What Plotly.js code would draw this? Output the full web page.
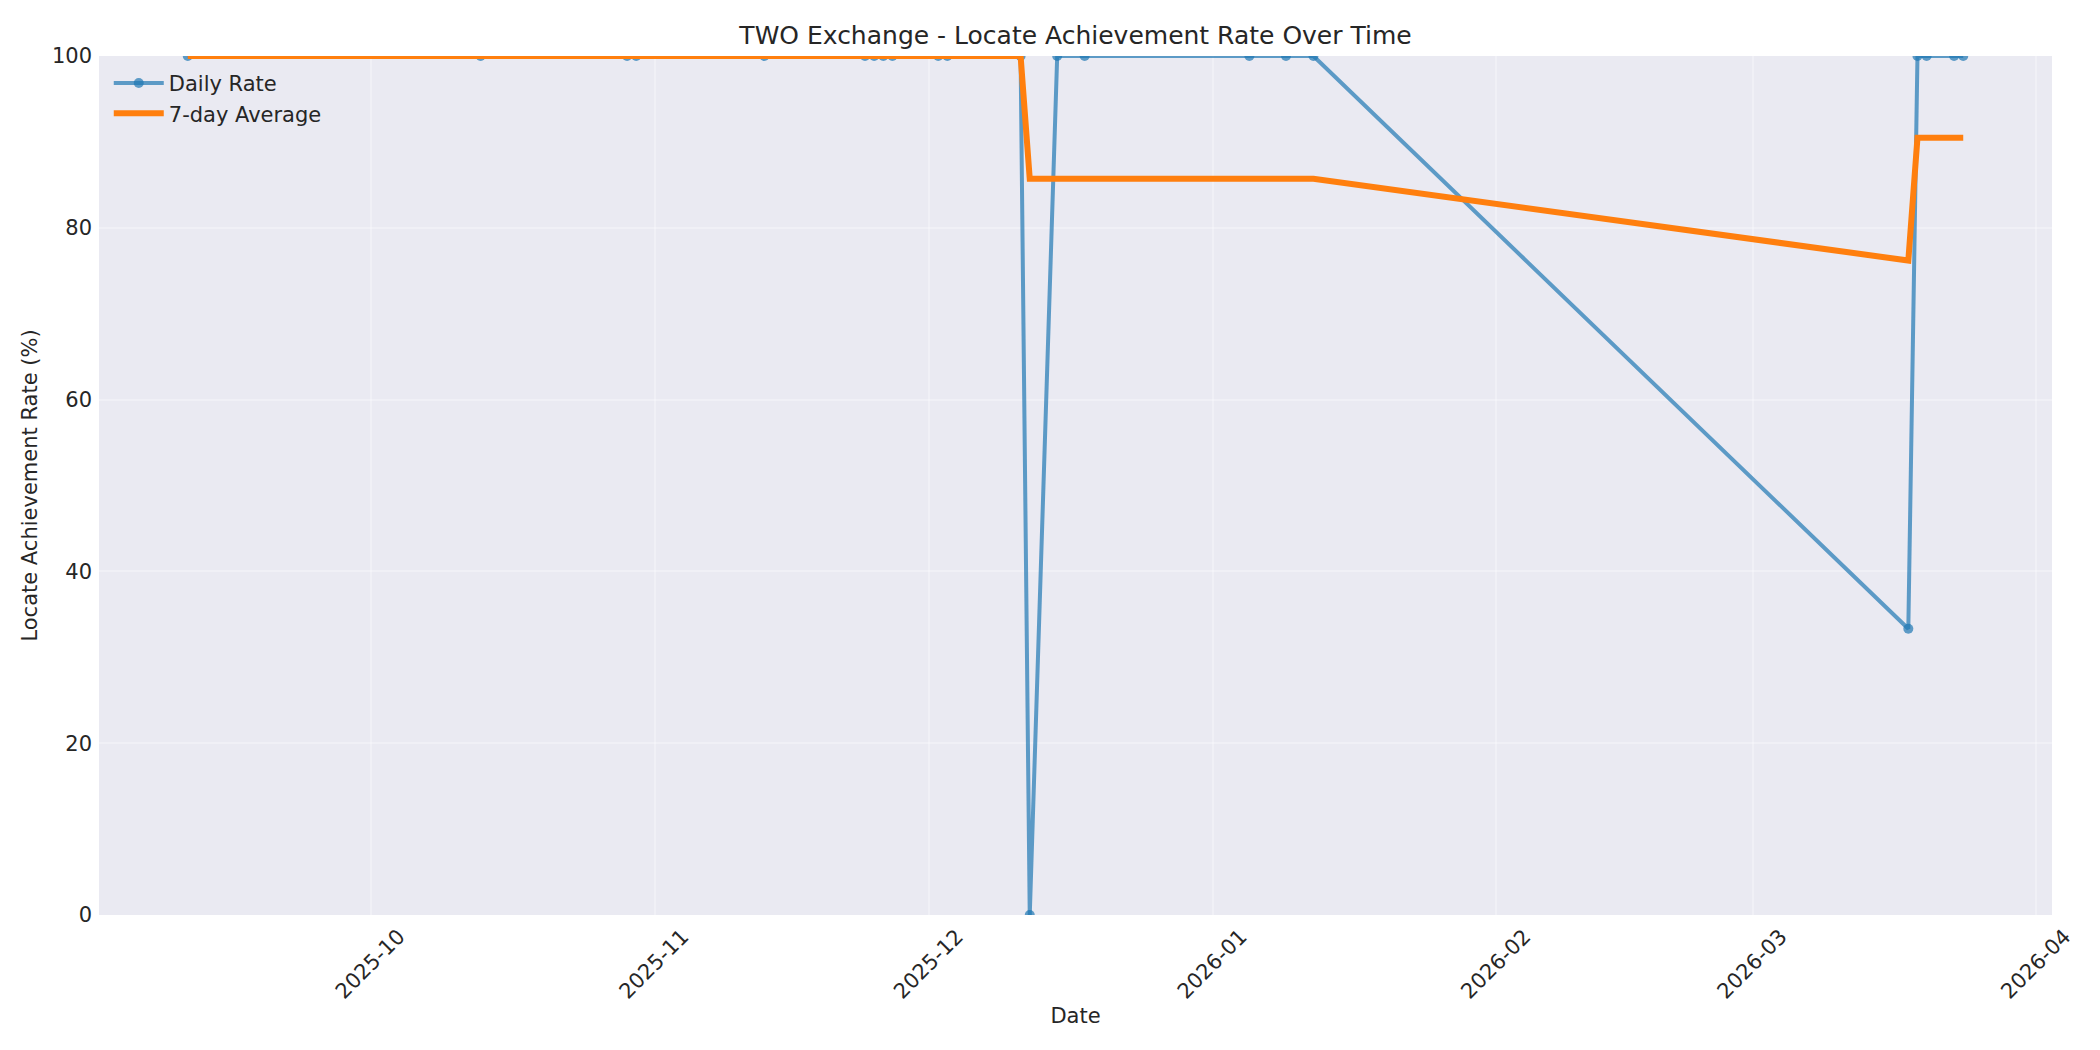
<!DOCTYPE html>
<html>
<head>
<meta charset="utf-8">
<script src="https://cdn.plot.ly/plotly-3.0.1.min.js"></script>
<style>
  html, body { margin: 0; padding: 0; background: #fff; }
  #chart { width: 2100px; height: 1050px; }
</style>
</head>
<body>
<div id="chart"></div>
<script>
// trading days
const dates = [
  '2025-09-11', '2025-10-13', '2025-10-29', '2025-10-30', '2025-11-13',
  '2025-11-24', '2025-11-25', '2025-11-26', '2025-11-27', '2025-12-02',
  '2025-12-03', '2025-12-11', '2025-12-12', '2025-12-15', '2025-12-18',
  '2026-01-05', '2026-01-09', '2026-01-12', '2026-03-18', '2026-03-19',
  '2026-03-20', '2026-03-23', '2026-03-24'
];
const dailyRate = [
  100, 100, 100, 100, 100,
  100, 100, 100, 100, 100,
  100, 100, 0, 100, 100,
  100, 100, 100, 33.33, 100,
  100, 100, 100
];
const avg7 = [
  100, 100, 100, 100, 100,
  100, 100, 100, 100, 100,
  100, 100, 85.71, 85.71, 85.71,
  85.71, 85.71, 85.71, 76.19, 90.48,
  90.48, 90.48, 90.48
];

const txt = '#262626';
const font = 'DejaVu Sans, sans-serif';
const grid = 'rgba(255,255,255,0.3)';

Plotly.newPlot('chart', [
  {
    x: dates, y: dailyRate, type: 'scatter', mode: 'lines+markers', name: 'Daily Rate',
    line: {color: 'rgba(31,119,180,0.7)', width: 4},
    marker: {color: 'rgba(31,119,180,0.7)', size: 10}
  },
  {
    x: dates, y: avg7, type: 'scatter', mode: 'lines', name: '7-day Average',
    line: {color: '#ff7f0e', width: 6}
  }
], {
  width: 2100, height: 1050,
  paper_bgcolor: '#ffffff', plot_bgcolor: '#EAEAF2',
  font: {family: font, color: txt, size: 21},
  margin: {l: 99, r: 48, t: 56, b: 135},
  title: {
    text: 'TWO Exchange - Locate Achievement Rate Over Time',
    font: {size: 25, color: txt},
    x: 0.5, xref: 'paper', y: 1 - 35 / 1050, yref: 'container', yanchor: 'middle'
  },
  xaxis: {
    type: 'date',
    range: ['2025-09-01 07:12', '2026-04-02 16:48'],
    dtick: 'M1', tick0: '2025-10-01', tickformat: '%Y-%m',
    tickangle: -45, ticklabelshift: 28, ticklabelstandoff: 4,
    showgrid: true, gridcolor: grid, gridwidth: 2,
    zeroline: false, showline: false, ticks: '',
    tickfont: {size: 21, color: txt},
    title: {text: 'Date', font: {size: 21, color: txt}, standoff: 5}
  },
  yaxis: {
    range: [0, 100], dtick: 20, tick0: 0,
    showgrid: true, gridcolor: grid, gridwidth: 2,
    zeroline: false, showline: false, ticks: '', ticklabelstandoff: 6,
    tickfont: {size: 21, color: txt},
    title: {text: 'Locate Achievement Rate (%)', font: {size: 21, color: txt}, standoff: 8}
  },
  legend: {
    x: 0.005, y: 0.992, xanchor: 'left', yanchor: 'top',
    bgcolor: 'rgba(0,0,0,0)', font: {size: 21, color: txt},
    itemwidth: 50, tracegroupgap: 4
  },
  showlegend: true
}, {displayModeBar: false});
</script>
</body>
</html>
